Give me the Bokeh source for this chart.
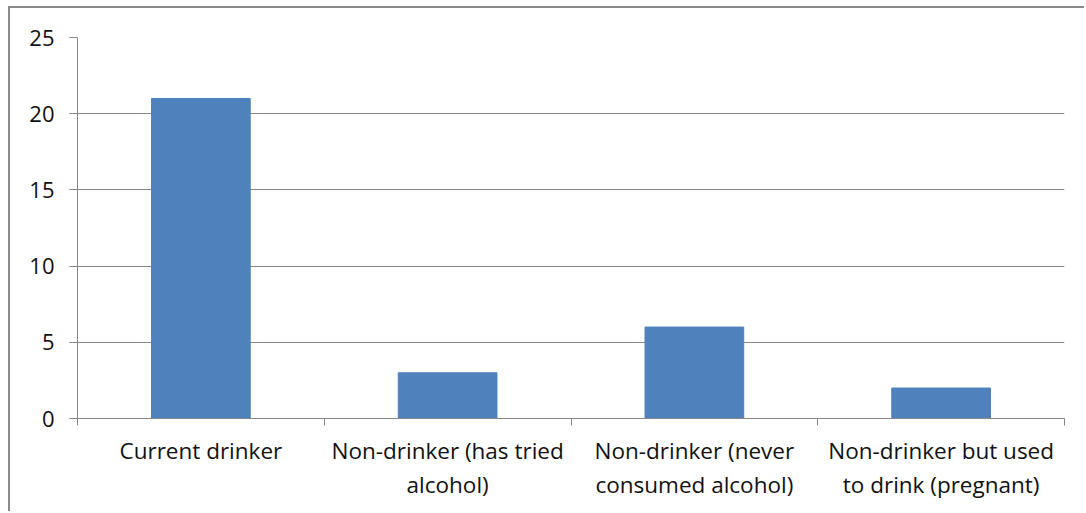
from bokeh.plotting import figure
from bokeh.models import Range1d, FactorRange, LinearAxis, FixedTicker, ColumnDataSource
from bokeh.embed import file_html
from bokeh.resources import INLINE

categories = ["Current drinker", "Non-drinker (has tried alcohol)",
              "Non-drinker (never consumed alcohol)", "Non-drinker but used to drink (pregnant)"]
tick_labels = ["Current drinker", "Non-drinker (has tried\nalcohol)",
               "Non-drinker (never\nconsumed alcohol)", "Non-drinker but used\nto drink (pregnant)"]
counts = [21, 3, 6, 2]
y_ticks = [0, 5, 10, 15, 20, 25]

GREY = "#868686"
FONT = "Open Sans"
TXT = "#111111"

src = ColumnDataSource(data=dict(cat=categories, count=counts))

p = figure(x_range=FactorRange(*categories), y_range=Range1d(0, 25),
           width=1076, height=505, output_backend="svg", toolbar_location=None,
           x_axis_location=None, y_axis_location=None,
           min_border_left=67, min_border_right=22, min_border_top=29, min_border_bottom=95)
p.styles = {"border-left": "2px solid #8a8a8a", "border-top": "2px solid #8a8a8a",
            "margin-left": "8px", "margin-top": "6px"}
p.outline_line_color = None
p.background_fill_color = "white"
p.border_fill_color = "white"

p.vbar(x="cat", top="count", width=0.4, source=src, fill_color="#4F81BD", line_color="#4F81BD")

# y axis
yax = LinearAxis(ticker=FixedTicker(ticks=y_ticks, minor_ticks=[]))
yax.axis_line_color = GREY
yax.major_tick_line_color = GREY
yax.major_tick_in = 0
yax.major_tick_out = 8
yax.minor_tick_line_color = None
yax.major_label_standoff = 15
yax.major_label_text_font = FONT
yax.major_label_text_font_size = "22px"
yax.major_label_text_color = TXT
p.add_layout(yax, "left")

# x axis: boundary ticks between categories, labels centred on each category
# (uses the factor range's synthetic coordinates: category i spans [i, i+1])
n = len(categories)
xax = LinearAxis(ticker=FixedTicker(ticks=[i + 0.5 for i in range(n)], minor_ticks=list(range(n + 1))))
xax.major_label_overrides = {i + 0.5: lab for i, lab in enumerate(tick_labels)}
xax.axis_line_color = GREY
xax.major_tick_line_color = None
xax.minor_tick_line_color = GREY
xax.minor_tick_in = 0
xax.minor_tick_out = 7
xax.major_tick_out = 7
xax.major_label_standoff = 9
xax.major_label_text_font = FONT
xax.major_label_text_font_size = "22.5px"
xax.major_label_text_line_height = 1.1
xax.major_label_text_color = TXT
p.add_layout(xax, "below")

p.xgrid.visible = False
p.ygrid.ticker = FixedTicker(ticks=y_ticks)
p.ygrid.grid_line_color = GREY
p.ygrid.grid_line_width = 1

open("out.html", "w").write(file_html(p, INLINE))
